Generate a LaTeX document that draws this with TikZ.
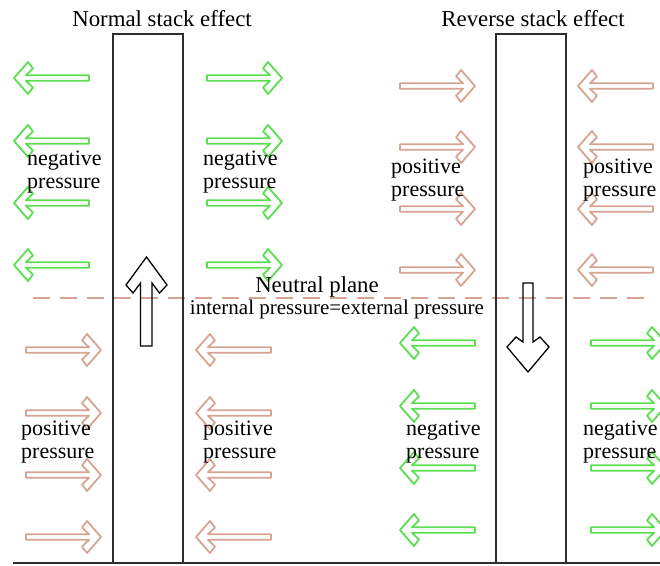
\documentclass[tikz,border=0pt]{standalone}
\usepackage{fontspec}
\setmainfont{Liberation Serif}
\definecolor{ggreen}{RGB}{92,222,82}
\definecolor{salmon}{RGB}{214,164,146}
\definecolor{stackgray}{RGB}{45,45,45}
\newcommand{\blkarrow}[4]{%
  \draw[#1, shift={(#2,#3)}, xscale=#4]
    (-75,2.8) -- (-12,2.8) -- (-19,9.5) -- (-14,16) -- (0,0) -- (-14,-16)
    -- (-19,-9.5) -- (-12,-2.8) -- (-75,-2.8) -- cycle;}
\tikzset{
  garrow/.style={draw=ggreen, line width=1.8pt, line join=round},
  sarrow/.style={draw=salmon, line width=1.8pt, line join=round},
  stackline/.style={draw=stackgray, line width=1.4pt},
  flowarrow/.style={draw=black, line width=1.3pt, line join=miter},
  plane/.style={draw=salmon, line width=1.6pt, dash pattern=on 17pt off 10pt},
  title/.style={inner sep=0pt, font=\fontsize{22.8}{26}\selectfont},
  lab/.style={inner sep=0pt, anchor=west, align=left, font=\fontsize{22}{23}\selectfont},
}
\begin{document}
\begin{tikzpicture}[x=1pt, y=-1pt]
\useasboundingbox (0,0) rectangle (660,565);
\begin{scope}
\clip (0,0) rectangle (660,565);
% neutral plane
\coordinate (pl) at (33,298);
\coordinate (pr) at (648,298);
\draw[plane] (pl) -- (pr);
% stacks
\coordinate (s1a) at (113,563);
\coordinate (s1b) at (113,34);
\coordinate (s1c) at (183,34);
\coordinate (s1d) at (183,563);
\draw[stackline] (s1a) -- (s1b) -- (s1c) -- (s1d);
\coordinate (s2a) at (496,563);
\coordinate (s2b) at (496,34);
\coordinate (s2c) at (566,34);
\coordinate (s2d) at (566,563);
\draw[stackline] (s2a) -- (s2b) -- (s2c) -- (s2d);
\coordinate (g1) at (13,563);
\coordinate (g2) at (660,563);
\draw[stackline, line width=1.8pt] (g1) -- (g2);
% normal stack arrows
\foreach \y in {78,141,203,265} {
  \blkarrow{garrow}{14}{\y}{-1}
  \blkarrow{garrow}{282}{\y}{1}
}
\foreach \y in {350,413,475,537} {
  \blkarrow{sarrow}{101}{\y}{1}
  \blkarrow{sarrow}{196}{\y}{-1}
}
% reverse stack arrows
\foreach \y in {86,147,209,270} {
  \blkarrow{sarrow}{475}{\y}{1}
  \blkarrow{sarrow}{578}{\y}{-1}
}
\foreach \y in {343,406,468,530} {
  \blkarrow{garrow}{400}{\y}{-1}
  \blkarrow{garrow}{666}{\y}{1}
}
% up flow arrow
\draw[flowarrow] (146.5,257) -- (126,285) -- (133,293) -- (140.5,283) -- (140.5,346)
  -- (152,346) -- (152,283) -- (159.5,293) -- (167,285) -- cycle;
% down flow arrow
\draw[flowarrow] (523,283) -- (523,342) -- (516,337) -- (507,347) -- (528,372)
  -- (549,347) -- (540,337) -- (533,342) -- (533,283) -- cycle;
\end{scope}
% texts
\node[title] (t1) at (162,19) {Normal stack effect};
\node[title] (t2) at (533,19) {Reverse stack effect};
\node[title] (np) at (317,287) {Neutral plane};
\node[inner sep=0pt, font=\fontsize{21}{24}\selectfont] (eq) at (337,309) {internal pressure=external pressure};
\node[lab] (l1) at (27,172) {negative\\pressure};
\node[lab] (l2) at (203,172) {negative\\pressure};
\node[lab] (l3) at (21,442) {positive\\pressure};
\node[lab] (l4) at (203,442) {positive\\pressure};
\node[lab] (l5) at (391,180) {positive\\pressure};
\node[lab] (l6) at (583,180) {positive\\pressure};
\node[lab] (l7) at (406,442) {negative\\pressure};
\node[lab] (l8) at (583,442) {negative\\pressure};
\end{tikzpicture}
\end{document}
